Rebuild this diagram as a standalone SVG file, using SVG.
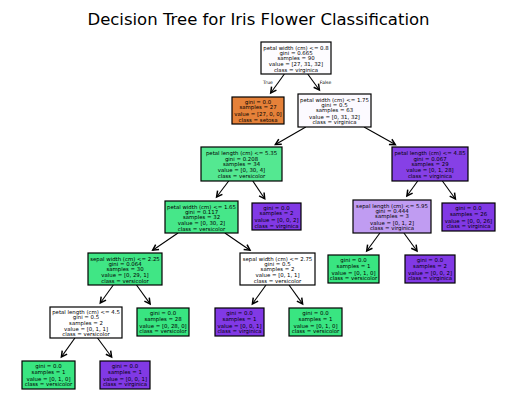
<svg xmlns="http://www.w3.org/2000/svg" width="515" height="411" viewBox="0 0 515 411">
<defs>
<marker id="ah" markerUnits="userSpaceOnUse" markerWidth="10" markerHeight="10" refX="0" refY="0" viewBox="-6 -4 8 8" orient="auto" overflow="visible">
<path d="M-4.5,-2.4 L0,0 L-4.5,2.4" fill="none" stroke="#000" stroke-width="1.2"/>
</marker>
</defs>
<style>
.bg{fill:#fff}
.t{font-family:"DejaVu Sans",sans-serif;font-size:16.5px;fill:#000;text-anchor:middle}
.n rect{stroke:#000;stroke-width:1.2}
.n text{font-family:"DejaVu Sans",sans-serif;font-size:5.4px;fill:#000;text-anchor:middle;dominant-baseline:central}
.e line{stroke:#000;stroke-width:1.1;marker-end:url(#ah)}
.lab{font-family:"DejaVu Sans",sans-serif;font-size:4.6px;fill:#000;text-anchor:middle;dominant-baseline:central}
.w{fill:#ffffff}.o{fill:#e58139}.g{fill:#39e581}.p{fill:#8139e5}
</style>
<rect class="bg" x="0" y="0" width="515" height="411"/>
<text class="t" x="258.5" y="25">Decision Tree for Iris Flower Classification</text>

<g id="edges" class="e">
<line x1="284.4" y1="74" x2="270.7" y2="93"/>
<line x1="307.7" y1="74" x2="319.4" y2="90"/>
<line x1="305.8" y1="127" x2="275.4" y2="144.5"/>
<line x1="364" y1="127" x2="395.3" y2="144.6"/>
<line x1="228.7" y1="181" x2="216.6" y2="197"/>
<line x1="252.8" y1="181" x2="264.7" y2="198.8"/>
<line x1="417.7" y1="181" x2="406.9" y2="196"/>
<line x1="442.4" y1="181" x2="455.4" y2="199"/>
<line x1="178" y1="233" x2="152.7" y2="250.2"/>
<line x1="224.9" y1="233" x2="250" y2="250.2"/>
<line x1="379.9" y1="233" x2="366.7" y2="251"/>
<line x1="403.9" y1="233" x2="417" y2="251"/>
<line x1="113.3" y1="285" x2="100.3" y2="303"/>
<line x1="136.5" y1="285" x2="150.1" y2="303.9"/>
<line x1="266" y1="285" x2="252.4" y2="303.9"/>
<line x1="289" y1="285" x2="302.6" y2="303.9"/>
<line x1="74.9" y1="338" x2="61.4" y2="356.9"/>
<line x1="97.5" y1="338" x2="111.6" y2="357"/>
<text class="lab" x="268" y="82.5">True</text>
<text class="lab" x="325.5" y="82.5">False</text>
</g>

<g id="n0" class="n"><rect x="261" y="42" width="70" height="32" fill="#fdfcff"/>
<text x="296" y="47.5">petal width (cm) &lt;= 0.8</text><text x="296" y="52.8">gini = 0.665</text><text x="296" y="58">samples = 90</text><text x="296" y="64">value = [27, 31, 32]</text><text x="296" y="69.5">class = virginica</text></g>

<g id="n1" class="n"><rect class="o" x="232" y="97" width="52" height="27"/>
<text x="258" y="102">gini = 0.0</text><text x="258" y="107.3">samples = 27</text><text x="258" y="114.3">value = [27, 0, 0]</text><text x="258" y="119.5">class = setosa</text></g>

<g id="n2" class="n"><rect x="298" y="94" width="73" height="33" fill="#fcfaff"/>
<text x="334.5" y="99.8">petal width (cm) &lt;= 1.75</text><text x="334.5" y="105.1">gini = 0.5</text><text x="334.5" y="110.3">samples = 63</text><text x="334.5" y="116.5">value = [0, 31, 32]</text><text x="334.5" y="122">class = virginica</text></g>

<g id="n3" class="n"><rect x="201" y="147" width="81" height="34" fill="#54e891"/>
<text x="241.5" y="153.3">petal length (cm) &lt;= 5.35</text><text x="241.5" y="158.6">gini = 0.208</text><text x="241.5" y="163.8">samples = 34</text><text x="241.5" y="170">value = [0, 30, 4]</text><text x="241.5" y="175.5">class = versicolor</text></g>

<g id="n4" class="n"><rect x="392" y="147" width="76" height="34" fill="#8640e6"/>
<text x="430" y="153.3">petal length (cm) &lt;= 4.85</text><text x="430" y="158.6">gini = 0.067</text><text x="430" y="163.8">samples = 29</text><text x="430" y="170">value = [0, 1, 28]</text><text x="430" y="175.5">class = virginica</text></g>

<g id="n5" class="n"><rect x="165" y="201" width="73" height="32" fill="#46e789"/>
<text x="201.5" y="206.5">petal width (cm) &lt;= 1.65</text><text x="201.5" y="211.8">gini = 0.117</text><text x="201.5" y="217">samples = 32</text><text x="201.5" y="223">value = [0, 30, 2]</text><text x="201.5" y="228.5">class = versicolor</text></g>

<g id="n6" class="n"><rect class="p" x="252" y="203" width="49" height="27"/>
<text x="276.5" y="208">gini = 0.0</text><text x="276.5" y="213.3">samples = 2</text><text x="276.5" y="220.3">value = [0, 0, 2]</text><text x="276.5" y="225.5">class = virginica</text></g>

<g id="n7" class="n"><rect x="353" y="200" width="78" height="33" fill="#c09cf2"/>
<text x="392" y="205.8">sepal length (cm) &lt;= 5.95</text><text x="392" y="211.1">gini = 0.444</text><text x="392" y="216.3">samples = 3</text><text x="392" y="222.5">value = [0, 1, 2]</text><text x="392" y="228">class = virginica</text></g>

<g id="n8" class="n"><rect class="p" x="442" y="203" width="53" height="28"/>
<text x="468.5" y="208.3">gini = 0.0</text><text x="468.5" y="213.6">samples = 26</text><text x="468.5" y="220.6">value = [0, 0, 26]</text><text x="468.5" y="225.8">class = virginica</text></g>

<g id="n9" class="n"><rect x="88" y="253" width="74" height="32" fill="#40e685"/>
<text x="125" y="258.5">sepal width (cm) &lt;= 2.25</text><text x="125" y="263.8">gini = 0.064</text><text x="125" y="269">samples = 30</text><text x="125" y="275">value = [0, 29, 1]</text><text x="125" y="280.5">class = versicolor</text></g>

<g id="n10" class="n"><rect class="w" x="240" y="253" width="75" height="32"/>
<text x="277.5" y="258.5">sepal width (cm) &lt;= 2.75</text><text x="277.5" y="263.8">gini = 0.5</text><text x="277.5" y="269">samples = 2</text><text x="277.5" y="275">value = [0, 1, 1]</text><text x="277.5" y="280.5">class = versicolor</text></g>

<g id="n11" class="n"><rect class="g" x="328" y="255" width="51" height="28"/>
<text x="353.5" y="260.3">gini = 0.0</text><text x="353.5" y="265.6">samples = 1</text><text x="353.5" y="272.6">value = [0, 1, 0]</text><text x="353.5" y="277.8">class = versicolor</text></g>

<g id="n12" class="n"><rect class="p" x="405" y="255" width="50" height="28"/>
<text x="430" y="260.3">gini = 0.0</text><text x="430" y="265.6">samples = 2</text><text x="430" y="272.6">value = [0, 0, 2]</text><text x="430" y="277.8">class = virginica</text></g>

<g id="n13" class="n"><rect class="w" x="50" y="307" width="72" height="31"/>
<text x="86" y="312.3">petal length (cm) &lt;= 4.5</text><text x="86" y="317.3">gini = 0.5</text><text x="86" y="322.5">samples = 2</text><text x="86" y="328.5">value = [0, 1, 1]</text><text x="86" y="333.8">class = versicolor</text></g>

<g id="n14" class="n"><rect class="g" x="137" y="308" width="52" height="28"/>
<text x="163" y="313.3">gini = 0.0</text><text x="163" y="318.6">samples = 28</text><text x="163" y="325.6">value = [0, 28, 0]</text><text x="163" y="330.8">class = versicolor</text></g>

<g id="n15" class="n"><rect class="p" x="215" y="308" width="49" height="28"/>
<text x="239.5" y="313.3">gini = 0.0</text><text x="239.5" y="318.6">samples = 1</text><text x="239.5" y="325.6">value = [0, 0, 1]</text><text x="239.5" y="330.8">class = virginica</text></g>

<g id="n16" class="n"><rect class="g" x="289" y="308" width="53" height="28"/>
<text x="315.5" y="313.3">gini = 0.0</text><text x="315.5" y="318.6">samples = 1</text><text x="315.5" y="325.6">value = [0, 1, 0]</text><text x="315.5" y="330.8">class = versicolor</text></g>

<g id="n17" class="n"><rect class="g" x="22" y="361" width="53" height="28"/>
<text x="48.5" y="366.3">gini = 0.0</text><text x="48.5" y="371.6">samples = 1</text><text x="48.5" y="378.6">value = [0, 1, 0]</text><text x="48.5" y="383.8">class = versicolor</text></g>

<g id="n18" class="n"><rect class="p" x="100" y="361" width="50" height="28"/>
<text x="125" y="366.3">gini = 0.0</text><text x="125" y="371.6">samples = 1</text><text x="125" y="378.6">value = [0, 0, 1]</text><text x="125" y="383.8">class = virginica</text></g>
</svg>
